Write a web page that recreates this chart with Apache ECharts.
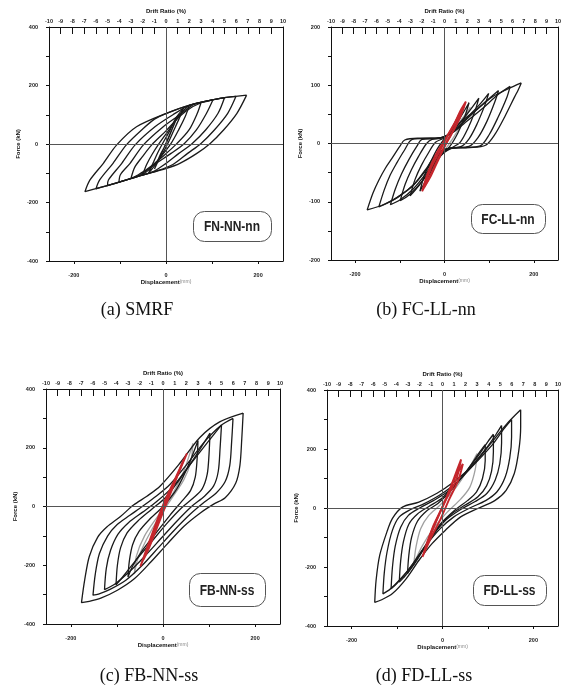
<!DOCTYPE html>
<html>
<head>
<meta charset="utf-8">
<script src="https://cdn.jsdelivr.net/npm/echarts@6/dist/echarts.min.js"></script>
<style>
  html, body { margin: 0; padding: 0; background: #fff; }
  #chart { width: 564px; height: 691px; }
</style>
</head>
<body>
<div id="chart"></div>
<script>
// axis values
const dispRange = [-254, 254];          // mm, equals drift -10 .. 10 %
const dispTicks = [-200, -100, 0, 100, 200];
const dispLabels = [-200, 0, 200];
const driftRange = [-10, 10];
const forceRangeBig = [-400, 400];      // kN, panels a, c, d
const forceRangeSmall = [-200, 200];    // kN, panel b

// (a) SMRF  FN-NN-nn  : loops as [displacement mm, force kN]
const smrfLoops = [
  [[175,167],[154,105],[125,48],[96,2],[67,-32],[30,-66],[1,-83],[-64,-112],[-122,-140],[-176,-163],[-165,-123],[-136,-66],[-107,-3],[-64,59],[1,105],[52,133],[117,156],[175,167]],
  [[152,163],[134,105],[105,48],[76,2],[47,-32],[15,-70],[-20,-92],[-64,-112],[-122,-140],[-152,-153],[-144,-123],[-115,-66],[-86,-3],[-50,52],[-25,85],[1,105],[52,133],[117,156],[152,163]],
  [[127,158],[113,105],[86,48],[57,2],[28,-32],[-5,-72],[-30,-96],[-64,-112],[-127,-142],[-125,-123],[-96,-66],[-67,-3],[-24,59],[15,100],[52,133],[100,151],[127,158]],
  [[102,151],[88,105],[66,48],[40,2],[11,-32],[-25,-70],[-55,-105],[-102,-130],[-99,-105],[-78,-66],[-49,-3],[-6,59],[30,100],[60,135],[80,143],[102,151]],
  [[76,141],[68,105],[50,48],[24,2],[-5,-40],[-40,-85],[-60,-105],[-76,-118],[-68,-80],[-52,-45],[-31,-3],[0,45],[30,95],[55,125],[76,141]],
  [[51,133],[42,95],[28,50],[11,2],[-12,-45],[-35,-85],[-51,-106],[-42,-70],[-30,-35],[-17,-3],[5,45],[30,100],[51,133]],
  [[38,122],[28,85],[15,40],[5,5],[-10,-40],[-25,-75],[-38,-100],[-28,-65],[-18,-30],[-8,0],[8,45],[22,90],[38,122]],
  [[25,95],[10,40],[0,3],[-12,-40],[-25,-85],[-12,-35],[0,0],[12,45],[25,95]]
];

// (b) FC-LL-nn
const fcLoops = [
  [[172,104],[165,92],[157,80],[135,46],[114,17],[92,-3],[56,-7],[12,-8],[-17,-17],[-38,-40],[-67,-69],[-104,-92],[-140,-106],[-173,-114],[-160,-85],[-147,-63],[-132,-42],[-118,-26],[-100,-5],[-89,6],[-60,9],[-17,9],[12,17],[41,40],[70,57],[107,80],[143,94],[172,104]],
  [[147,98],[140,80],[120,45],[100,15],[80,-4],[40,-7],[8,-9],[-15,-20],[-40,-45],[-70,-72],[-105,-92],[-130,-103],[-147,-109],[-135,-80],[-122,-55],[-108,-35],[-90,-12],[-72,7],[-30,9],[-5,10],[20,20],[50,38],[85,60],[120,84],[147,98]],
  [[121,91],[113,72],[95,38],[75,10],[55,-5],[10,-8],[-15,-22],[-40,-50],[-70,-78],[-100,-97],[-121,-105],[-110,-78],[-96,-52],[-80,-28],[-62,-5],[-50,7],[-10,9],[20,20],[50,42],[85,67],[121,91]],
  [[99,86],[90,65],[72,32],[55,8],[38,-5],[8,-10],[-15,-27],[-40,-55],[-65,-78],[-85,-92],[-99,-98],[-88,-70],[-74,-45],[-58,-22],[-40,0],[-28,7],[0,12],[25,25],[55,48],[80,68],[99,86]],
  [[77,78],[68,55],[52,25],[35,2],[15,-8],[-10,-20],[-30,-42],[-55,-70],[-77,-90],[-66,-62],[-52,-38],[-35,-15],[-20,2],[0,10],[25,28],[50,50],[77,78]],
  [[55,70],[45,45],[30,18],[12,-5],[-10,-22],[-30,-48],[-55,-82],[-45,-55],[-30,-30],[-15,-8],[0,8],[25,32],[55,70]]
];
const fcGrey = [
  [[58,62],[40,35],[20,10],[0,-12],[-25,-40],[-45,-70],[-30,-40],[-10,-12],[10,12],[35,38],[58,62]]
];
const fcRed = [
  [[48,72],[35,45],[15,15],[0,-5],[-20,-35],[-35,-60],[-50,-82],[-38,-52],[-20,-20],[0,5],[20,30],[35,55],[48,72]],
  [[44,64],[25,30],[5,2],[-15,-30],[-30,-55],[-46,-76],[-30,-42],[-10,-12],[10,18],[30,45],[44,64]]
];

// (c) FB-NN-ss
const fbLoops = [
  [[174,318],[171,230],[167,140],[158,80],[135,30],[110,8],[81,-22],[45,-68],[9,-128],[-27,-190],[-63,-247],[-99,-285],[-135,-312],[-160,-323],[-177,-327],[-170,-250],[-160,-170],[-142,-105],[-122,-70],[-93,-35],[-64,5],[-35,35],[-6,70],[37,148],[80,235],[123,288],[174,318]],
  [[152,300],[149,220],[145,140],[135,85],[115,45],[90,15],[60,-25],[25,-80],[-10,-140],[-45,-200],[-80,-250],[-115,-282],[-140,-298],[-152,-302],[-147,-230],[-138,-160],[-120,-100],[-100,-62],[-72,-30],[-45,0],[-15,35],[15,75],[50,140],[90,220],[125,275],[152,300]],
  [[127,278],[124,200],[120,120],[110,70],[90,35],[62,0],[30,-50],[-5,-110],[-40,-170],[-75,-225],[-105,-265],[-127,-283],[-123,-210],[-114,-150],[-98,-95],[-75,-55],[-45,-20],[-15,15],[20,65],[55,135],[95,215],[127,278]],
  [[102,250],[100,180],[96,110],[85,60],[65,28],[40,-5],[10,-55],[-25,-120],[-60,-185],[-85,-235],[-102,-267],[-99,-200],[-92,-140],[-78,-90],[-55,-50],[-25,-10],[5,30],[35,90],[70,170],[102,250]],
  [[76,225],[74,160],[70,100],[60,55],[42,20],[15,-30],[-15,-90],[-45,-150],[-65,-200],[-76,-240],[-73,-185],[-66,-130],[-52,-85],[-30,-45],[0,0],[30,60],[55,140],[76,225]]
];
const fbGrey = [
  [[65,215],[60,150],[45,90],[20,30],[-10,-40],[-35,-110],[-55,-180],[-62,-230],[-58,-170],[-40,-100],[-10,-30],[20,40],[45,120],[65,215]]
];
const fbRed = [
  [[52,181],[30,100],[0,-5],[-25,-110],[-49,-204],[-30,-120],[0,5],[25,90],[52,181]],
  [[45,160],[20,60],[-5,-40],[-30,-140],[-42,-180],[-20,-90],[5,0],[30,100],[45,160]]
];

// (d) FD-LL-ss
const fdLoops = [
  [[172,333],[172,275],[168,196],[158,117],[140,60],[115,25],[80,0],[40,-30],[6,-76],[-23,-121],[-52,-178],[-80,-240],[-110,-290],[-135,-312],[-149,-320],[-146,-245],[-138,-160],[-122,-80],[-110,-35],[-88,3],[-52,20],[-12,50],[20,83],[63,139],[106,218],[142,286],[172,333]],
  [[152,300],[152,240],[148,170],[138,105],[120,55],[95,25],[60,0],[25,-30],[-5,-70],[-35,-125],[-65,-190],[-95,-245],[-115,-275],[-131,-291],[-128,-220],[-122,-150],[-110,-75],[-95,-30],[-70,-5],[-40,15],[-5,45],[30,85],[70,148],[110,215],[135,268],[152,300]],
  [[130,280],[130,220],[126,150],[116,95],[98,50],[72,22],[40,-5],[8,-40],[-20,-90],[-50,-155],[-80,-220],[-100,-255],[-113,-274],[-110,-200],[-104,-130],[-92,-65],[-75,-25],[-50,0],[-20,25],[15,60],[55,125],[95,200],[118,250],[130,280]],
  [[112,250],[112,190],[108,125],[97,75],[78,38],[50,10],[20,-20],[-8,-65],[-35,-125],[-62,-190],[-82,-230],[-95,-251],[-92,-180],[-86,-115],[-74,-55],[-55,-20],[-30,5],[0,35],[40,100],[80,180],[100,225],[112,250]],
  [[94,215],[94,160],[88,100],[75,55],[55,25],[25,-10],[-5,-55],[-30,-110],[-55,-170],[-70,-205],[-77,-223],[-74,-160],[-68,-100],[-55,-45],[-35,-10],[-10,15],[25,70],[60,140],[82,190],[94,215]]
];
const fdGrey = [
  [[76,185],[72,130],[60,70],[40,30],[10,-15],[-20,-70],[-45,-130],[-63,-189],[-58,-130],[-48,-70],[-30,-25],[-5,10],[30,70],[60,140],[76,185]]
];
const fdRed = [
  [[45,150],[35,95],[15,30],[-5,-40],[-25,-100],[-44,-166],[-30,-100],[-10,-30],[10,40],[30,110],[45,150]],
  [[41,165],[30,95],[10,35],[-15,-50],[-35,-130],[-20,-60],[5,20],[25,100],[41,165]]
];

const panels = [
  { grid: { left: 49, top: 27, width: 234, height: 234 }, force: forceRangeBig, fstep: 100, loops: smrfLoops, grey: [], red: [],
    tag: 'FN-NN-nn', box: [193, 211, 78, 30], caption: '(a) SMRF', cap: [137, 310] },
  { grid: { left: 331, top: 27, width: 234, height: 233 }, force: forceRangeSmall, fstep: 50, loops: fcLoops, grey: fcGrey, red: fcRed,
    tag: 'FC-LL-nn', box: [471, 204, 74, 29], caption: '(b) FC-LL-nn', cap: [426, 310] },
  { grid: { left: 46, top: 389, width: 234, height: 235 }, force: forceRangeBig, fstep: 100, loops: fbLoops, grey: fbGrey, red: fbRed,
    tag: 'FB-NN-ss', box: [189, 573, 76, 33], caption: '(c) FB-NN-ss', cap: [149, 676] },
  { grid: { left: 327, top: 390, width: 238, height: 236 }, force: forceRangeBig, fstep: 100, loops: fdLoops, grey: fdGrey, red: fdRed,
    tag: 'FD-LL-ss', box: [473, 575, 73, 30], caption: '(d) FD-LL-ss', cap: [424, 676] }
];

const tickFont = { fontSize: 5.5, fontWeight: 'bold', color: '#222', fontFamily: 'Liberation Sans' };
const axisLine = { show: true, onZero: false, lineStyle: { color: '#111', width: 1 } };

const grids = [], xAxes = [], yAxes = [], series = [], graphics = [];

panels.forEach((p, i) => {
  grids.push(p.grid);
  // bottom displacement axis
  xAxes.push({
    gridIndex: i, type: 'value', position: 'bottom', min: dispRange[0], max: dispRange[1],
    axisLine: axisLine,
    axisTick: { show: true, customValues: dispTicks, length: 3, lineStyle: { color: '#111' } },
    axisLabel: Object.assign({ customValues: dispLabels, margin: 11 }, tickFont),
    splitLine: { show: false },
    name: '{b|Displacement}{n|(mm)}', nameLocation: 'middle', nameGap: 18,
    nameTextStyle: { rich: {
      b: { fontSize: 6, fontWeight: 'bold', color: '#111', fontFamily: 'Liberation Sans' },
      n: { fontSize: 5, color: '#888', fontFamily: 'Liberation Sans' } } }
  });
  // top drift ratio axis
  xAxes.push({
    gridIndex: i, type: 'value', position: 'top', min: driftRange[0], max: driftRange[1], interval: 1,
    axisLine: axisLine,
    axisTick: { show: true, inside: true, length: 7, lineStyle: { color: '#111' } },
    axisLabel: Object.assign({ margin: 3 }, tickFont),
    splitLine: { show: false },
    name: 'Drift Ratio (%)', nameLocation: 'middle', nameGap: 13,
    nameTextStyle: { fontSize: 6, fontWeight: 'bold', color: '#111', fontFamily: 'Liberation Sans' }
  });
  yAxes.push({
    gridIndex: i, type: 'value', position: 'left', min: p.force[0], max: p.force[1], interval: p.fstep,
    axisLine: axisLine,
    axisTick: { show: true, length: 3, lineStyle: { color: '#111' } },
    axisLabel: Object.assign({ margin: 11, formatter: v => (v % (2 * p.fstep) === 0 ? v : '') }, tickFont),
    splitLine: { show: false },
    name: 'Force (kN)', nameLocation: 'middle', nameGap: 28,
    nameTextStyle: { fontSize: 6, fontWeight: 'bold', color: '#111', fontFamily: 'Liberation Sans' }
  });
  yAxes.push({
    gridIndex: i, type: 'value', position: 'right', min: p.force[0], max: p.force[1],
    axisLine: axisLine, axisTick: { show: false }, axisLabel: { show: false }, splitLine: { show: false }
  });

  const add = (loops, color, width, z) => loops.forEach(d => series.push({
    type: 'line', xAxisIndex: i * 2, yAxisIndex: i * 2, data: d,
    showSymbol: false, symbol: 'none', smooth: 0.3, silent: true, z: z,
    lineStyle: { color: color, width: width }
  }));
  // crosshair at zero
  series.push({
    type: 'line', xAxisIndex: i * 2, yAxisIndex: i * 2, data: [], silent: true, z: 1,
    markLine: { silent: true, symbol: ['none', 'none'], label: { show: false },
      lineStyle: { color: '#555', width: 1, type: 'solid' },
      data: [{ xAxis: 0 }, { yAxis: 0 }] }
  });
  add(p.grey, '#a0a0a0', 1.3, 2);
  add(p.loops, '#1a1a1a', 1.3, 3);
  add(p.red, '#c4262c', 1.9, 4);

  // sample tag box and caption
  graphics.push({
    type: 'rect', left: p.box[0], top: p.box[1], z: 10,
    shape: { width: p.box[2], height: p.box[3], r: 11 },
    style: { fill: '#fff', stroke: '#555', lineWidth: 1 }
  });
  graphics.push({
    type: 'text', x: p.box[0] + p.box[2] / 2, y: p.box[1] + p.box[3] / 2 + 1, z: 11,
    scaleX: 0.8,
    style: { text: p.tag, fill: '#222', fontSize: 15, fontWeight: 'bold',
      fontFamily: 'Liberation Sans', align: 'center', verticalAlign: 'middle' }
  });
  graphics.push({
    type: 'text', x: p.cap[0], y: p.cap[1], z: 11,
    style: { text: p.caption, fill: '#111', fontSize: 18, fontFamily: 'Liberation Serif',
      align: 'center', verticalAlign: 'middle' }
  });
});

const chart = echarts.init(document.getElementById('chart'), null, { renderer: 'canvas' });
chart.setOption({
  animation: false,
  backgroundColor: '#fff',
  grid: grids,
  xAxis: xAxes,
  yAxis: yAxes,
  series: series,
  graphic: graphics
});
</script>
</body>
</html>
